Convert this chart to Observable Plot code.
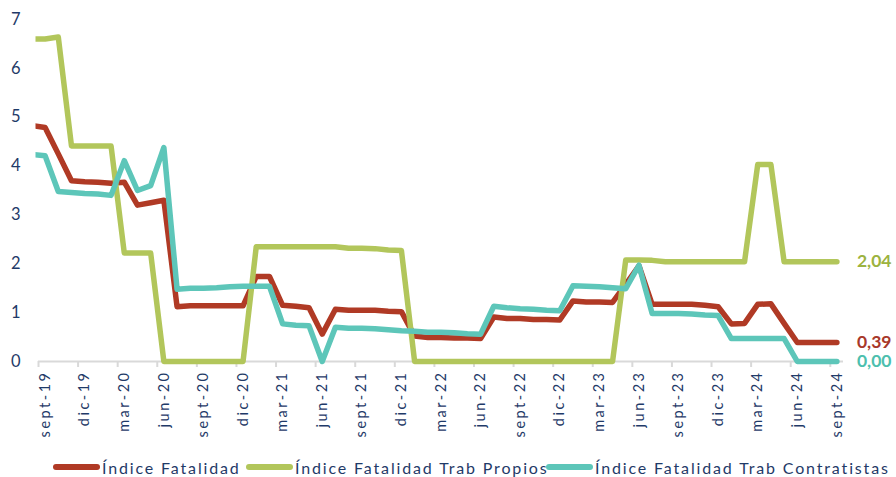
<!DOCTYPE html>
<html><head><meta charset="utf-8">
<script src="https://cdn.jsdelivr.net/npm/d3@7"></script>
<script src="https://cdn.jsdelivr.net/npm/@observablehq/plot@0.6"></script>
<style>
body{margin:0;background:#fff;}
#wrap{position:relative;width:896px;height:477px;overflow:hidden;font-family:Lato,"Open Sans",sans-serif;background:#fff;}
#chart{position:absolute;left:0;top:0;}
.leg{position:absolute;top:457px;height:20px;display:flex;align-items:center;color:#1F3A68;font-size:16px;letter-spacing:1.85px;white-space:nowrap;}
.sw{width:47px;height:6px;border-radius:3px;margin-right:2px;flex:none;}
</style></head>
<body><div id="wrap"><div id="chart"></div><div id="legend"></div></div>
<script>
const months = ["ago-19","sept-19","oct-19","nov-19","dic-19","ene-20","feb-20","mar-20","abr-20","may-20","jun-20","jul-20","ago-20","sept-20","oct-20","nov-20","dic-20","ene-21","feb-21","mar-21","abr-21","may-21","jun-21","jul-21","ago-21","sept-21","oct-21","nov-21","dic-21","ene-22","feb-22","mar-22","abr-22","may-22","jun-22","jul-22","ago-22","sept-22","oct-22","nov-22","dic-22","ene-23","feb-23","mar-23","abr-23","may-23","jun-23","jul-23","ago-23","sept-23","oct-23","nov-23","dic-23","ene-24","feb-24","mar-24","abr-24","may-24","jun-24","jul-24","ago-24","sept-24"];

const fatalidad = [4.83,4.79,4.25,3.70,3.68,3.67,3.65,3.67,3.20,3.25,3.30,1.12,1.14,1.14,1.14,1.14,1.14,1.74,1.74,1.15,1.13,1.10,0.56,1.07,1.05,1.05,1.05,1.03,1.02,0.52,0.49,0.49,0.48,0.48,0.47,0.91,0.88,0.88,0.86,0.86,0.85,1.24,1.22,1.22,1.21,1.58,1.96,1.17,1.17,1.17,1.17,1.15,1.12,0.77,0.78,1.17,1.18,0.78,0.39,0.39,0.39,0.39];

const propios = [6.60,6.60,6.64,4.41,4.41,4.41,4.41,2.22,2.22,2.22,0,0,0,0,0,0,0,2.35,2.35,2.35,2.35,2.35,2.35,2.35,2.32,2.32,2.31,2.28,2.27,0,0,0,0,0,0,0,0,0,0,0,0,0,0,0,0,2.08,2.08,2.07,2.04,2.04,2.04,2.04,2.04,2.04,2.04,4.03,4.03,2.04,2.04,2.04,2.04,2.04];

const contratistas = [4.24,4.21,3.48,3.46,3.44,3.43,3.40,4.11,3.50,3.60,4.38,1.48,1.50,1.50,1.51,1.53,1.54,1.54,1.54,0.77,0.74,0.73,0.00,0.70,0.68,0.68,0.67,0.65,0.63,0.62,0.60,0.60,0.59,0.57,0.56,1.13,1.10,1.08,1.07,1.05,1.04,1.55,1.54,1.53,1.51,1.49,1.97,0.98,0.98,0.98,0.97,0.95,0.94,0.47,0.47,0.47,0.47,0.47,0,0,0,0];

const tickLabels = ["sept-19","dic-19","mar-20","jun-20","sept-20","dic-20","mar-21","jun-21","sept-21","dic-21","mar-22","jun-22","sept-22","dic-22","mar-23","jun-23","sept-23","dic-23","mar-24","jun-24","sept-24"];
const yTicks = [0,1,2,3,4,5,6,7];

const seriesNames = ["Índice Fatalidad","Índice Fatalidad Trab Propios","Índice Fatalidad Trab Contratistas"];
const seriesColors = ["#B03A25","#B2C65B","#5DC6B9"];
const labelColors = ["#A8382A","#9CB33F","#4DBFAE"];
const seriesValues = [fatalidad, propios, contratistas];

// position index: 0 = sept-19 (first labelled month)
const pos = m => months.indexOf(m) - months.indexOf("sept-19");
const rows = [];
seriesValues.forEach((vals, s) => vals.forEach((v, k) => rows.push({serie: seriesNames[s], i: pos(months[k]), v})));
const lastMonth = months[months.length - 1];
const endLabels = seriesValues.map((vals, s) => ({
  i: pos(lastMonth), v: vals[vals.length - 1],
  text: vals[vals.length - 1].toFixed(2).replace(".", ","), color: labelColors[s]
}));
const boundaries = tickLabels.map(l => pos(l) - 0.5);
const navy = "#1F3A68";

const plot = Plot.plot({
  width: 896, height: 452,
  marginLeft: 38, marginRight: 53, marginTop: 19, marginBottom: 91,
  style: {fontFamily: "Lato, 'Open Sans', sans-serif", fontSize: "16.5px", color: navy, background: "white", overflow: "visible"},
  x: {type: "linear", domain: [pos(tickLabels[0]) - 0.5, pos(lastMonth) + 0.5], axis: null},
  y: {domain: [0, 7], axis: null},
  color: {domain: seriesNames, range: seriesColors},
  marks: [
    Plot.axisY({ticks: yTicks, tickSize: 0, tickPadding: 18, label: null, tickFormat: d => String(d), fontSize: 16.5, fill: navy}),
    Plot.axisX({ticks: boundaries, tickSize: 6, tickFormat: () => "", label: null, stroke: "#D9D9D9", strokeWidth: 2}),
    Plot.ruleY([0], {stroke: "#D9D9D9", strokeWidth: 2}),
    Plot.text(tickLabels, {x: d => pos(d), y: 0, text: d => d, rotate: -90, textAnchor: "end", dy: 9, fontSize: 14.5, fill: navy}),
    Plot.line(rows, {x: "i", y: "v", z: "serie", stroke: "serie", strokeWidth: 5.5, strokeLinejoin: "round", strokeLinecap: "round"}),
    Plot.text(endLabels, {x: "i", y: "v", text: "text", fill: d => d.color, dx: 20, textAnchor: "start", fontWeight: "bold", fontSize: 17.5})
  ]
});

document.getElementById("chart").appendChild(plot);

// letter spacing for the category labels
d3.select(plot).selectAll("text").filter(function(){ return tickLabels.includes(this.textContent); })
  .style("letter-spacing", "2.5px");

// clip the lines at the left edge of the plot area
const xs = plot.scale("x");
const left = xs.apply(pos(tickLabels[0]) - 0.5) - 3;
const defs = d3.select(plot).append("defs");
defs.append("clipPath").attr("id", "lclip").append("rect")
  .attr("x", left).attr("y", 0).attr("width", 896).attr("height", 452);
d3.select(plot).selectAll('g[aria-label="line"]').attr("clip-path", "url(#lclip)");

// legend
const legendLefts = [53, 246, 546];
const legend = document.getElementById("legend");
seriesNames.forEach((name, s) => {
  const item = document.createElement("div");
  item.className = "leg";
  item.style.left = legendLefts[s] + "px";
  const sw = document.createElement("div");
  sw.className = "sw";
  sw.style.background = seriesColors[s];
  const t = document.createElement("span");
  t.textContent = name;
  item.appendChild(sw); item.appendChild(t);
  legend.appendChild(item);
});
</script>
</body></html>
